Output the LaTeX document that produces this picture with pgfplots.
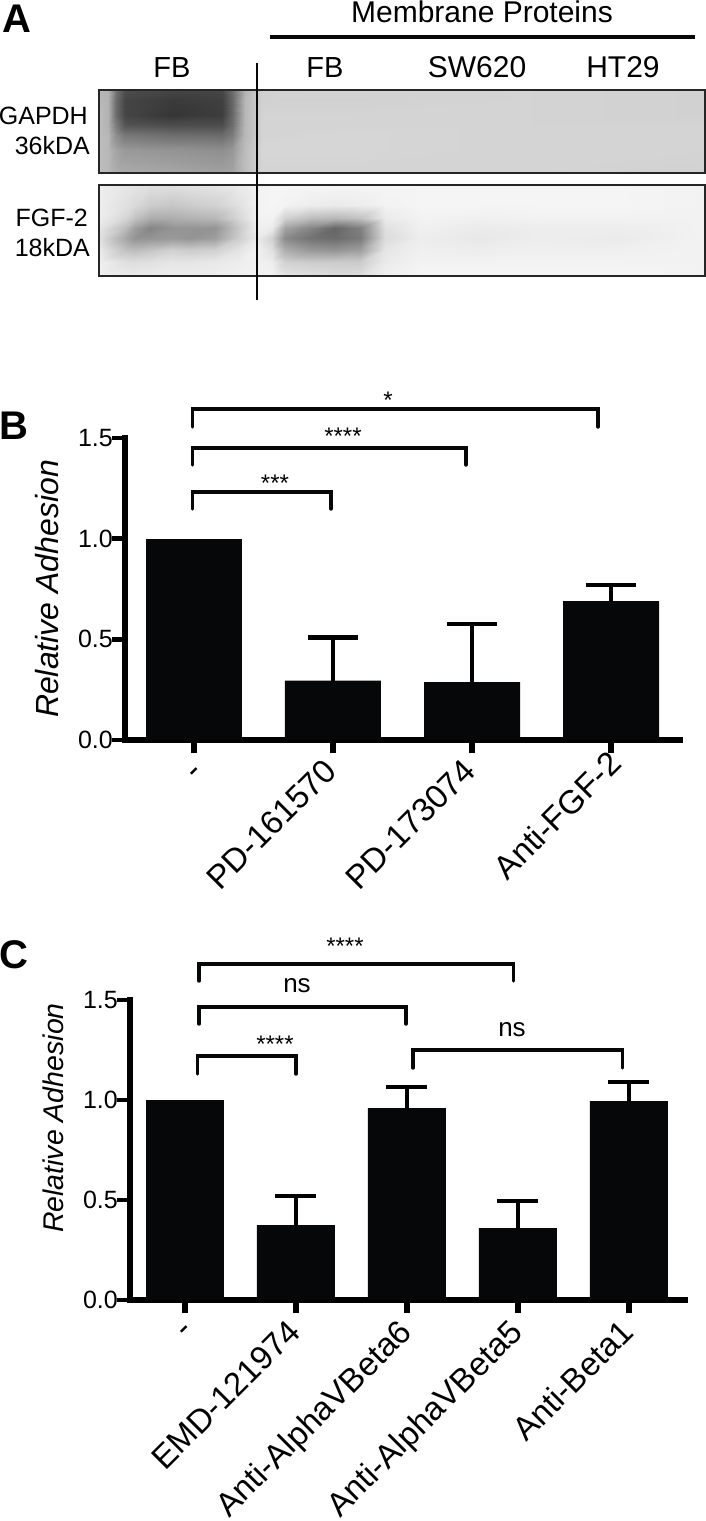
\documentclass[border=0pt]{standalone}
\usepackage{pgfplots}
\pgfplotsset{compat=1.18}
\usepackage{fontspec}
\setmainfont{Liberation Sans}

\definecolor{barblack}{HTML}{060709}

% bracket: x left, x right, y top, y bottom left, y bottom right (image pixels)
\newcommand{\sigbracket}[5]{%
  \draw[line width=3.4pt,barblack,line cap=round,line join=miter]
    (#1pt,-#4pt) -- (#1pt,-#3pt) -- (#2pt,-#3pt) -- (#2pt,-#5pt);}

\pgfplotsset{
  blot/.style={
    scale only axis, hide axis, view={0}{90}, y dir=reverse,
    colormap/blackwhite, point meta min=0, point meta max=1,
    enlargelimits=false, clip=true},
  adhesion/.style={
    scale only axis,
    ymin=0, ymax=1.5, ytick={0,0.5,1,1.5},
    axis x line*=bottom, axis y line*=left,
    axis line style={line width=6pt,black,line cap=rect},
    tick align=outside, major tick length=13pt,
    xtick style={line width=6pt,black},
    ytick style={line width=4.5pt,black},
    ticklabel style={inner sep=0pt},
    yticklabel style={font=\fontsize{25}{25}\selectfont,xshift=1pt},
    /pgf/number format/assume math mode=true,
    /pgf/number format/fixed,/pgf/number format/fixed zerofill,/pgf/number format/precision=1,
    clip=false,
    ybar, bar shift=0pt},
  errs/.style={
    fill=barblack, draw=none,
    error bars/.cd, y dir=plus, y explicit,
    error bar style={line width=4.5pt,black},
    error mark options={rotate=90,mark size=#1,line width=4.5pt,black}},
}

\begin{document}
\begin{tikzpicture}
\path[use as bounding box] (0,0) rectangle (706pt,-1521pt);

% panel A, blots
\begin{axis}[blot, at={(99pt,-173pt)}, anchor=south west, width=606pt, height=83pt,
  xmin=99, xmax=705, ymin=90, ymax=173]
\addplot3[surf, shader=interp, mesh/cols=12] coordinates {
(99,90,.72) (108,90,.70) (116,90,.45) (125,90,.30) (172,90,.27) (222,90,.28) (232,90,.42) (245,90,.70) (262,90,.82) (340,90,.83) (520,90,.83) (705,90,.82)
(99,100,.72) (108,100,.70) (116,100,.42) (125,100,.27) (172,100,.23) (222,100,.25) (232,100,.40) (245,100,.72) (262,100,.82) (340,100,.82) (520,100,.83) (705,100,.82)
(99,115,.74) (108,115,.70) (116,115,.42) (125,115,.27) (172,115,.21) (222,115,.24) (232,115,.40) (245,115,.72) (262,115,.83) (340,115,.83) (520,115,.83) (705,115,.82)
(99,125,.74) (108,125,.70) (116,125,.48) (125,125,.33) (172,125,.30) (222,125,.30) (232,125,.42) (245,125,.72) (262,125,.83) (340,125,.83) (520,125,.83) (705,125,.83)
(99,135,.74) (108,135,.72) (116,135,.55) (125,135,.47) (172,135,.43) (222,135,.42) (232,135,.48) (245,135,.72) (262,135,.83) (340,135,.84) (520,135,.83) (705,135,.83)
(99,150,.74) (108,150,.72) (116,150,.64) (125,150,.60) (172,150,.58) (222,150,.56) (232,150,.59) (245,150,.74) (262,150,.84) (340,150,.84) (520,150,.83) (705,150,.83)
(99,173,.74) (108,173,.72) (116,173,.68) (125,173,.67) (172,173,.65) (222,173,.63) (232,173,.64) (245,173,.74) (262,173,.83) (340,173,.83) (520,173,.83) (705,173,.82)
};
\end{axis}
\begin{axis}[blot, at={(99pt,-276pt)}, anchor=south west, width=606pt, height=91pt,
  xmin=99, xmax=705, ymin=185, ymax=276]
\addplot3[surf, shader=interp, mesh/cols=20] coordinates {
(99,185,.93) (125,185,.90) (135,185,.89) (150,185,.88) (172,185,.88) (190,185,.89) (215,185,.90) (238,185,.92) (257,185,.95) (272,185,.96) (285,185,.96) (310,185,.96) (335,185,.96) (360,185,.96) (385,185,.96) (420,185,.96) (480,185,.96) (540,185,.96) (620,185,.96) (705,185,.95)
(99,205,.93) (125,205,.88) (135,205,.85) (150,205,.80) (172,205,.78) (190,205,.80) (215,205,.82) (238,205,.88) (257,205,.95) (272,205,.96) (285,205,.95) (310,205,.93) (335,205,.92) (360,205,.93) (385,205,.95) (420,205,.96) (480,205,.96) (540,205,.96) (620,205,.96) (705,205,.95)
(99,218,.93) (125,218,.84) (135,218,.76) (150,218,.68) (172,218,.68) (190,218,.70) (215,218,.72) (238,218,.84) (257,218,.95) (272,218,.95) (285,218,.82) (310,218,.74) (335,218,.72) (360,218,.76) (385,218,.92) (420,218,.95) (480,218,.94) (540,218,.95) (620,218,.95) (705,218,.95)
(99,228,.90) (125,228,.74) (135,228,.62) (150,228,.52) (172,228,.58) (190,228,.58) (215,228,.58) (238,228,.78) (257,228,.94) (272,228,.92) (285,228,.64) (310,228,.52) (335,228,.40) (360,228,.50) (385,228,.88) (420,228,.94) (480,228,.92) (540,228,.93) (620,228,.93) (705,228,.95)
(99,238,.88) (125,238,.66) (135,238,.58) (150,238,.58) (172,238,.60) (190,238,.58) (215,238,.62) (238,238,.80) (257,238,.92) (272,238,.82) (285,238,.54) (310,238,.45) (335,238,.42) (360,238,.48) (385,238,.86) (420,238,.93) (480,238,.91) (540,238,.93) (620,238,.92) (705,238,.95)
(99,250,.92) (125,250,.76) (135,250,.74) (150,250,.77) (172,250,.82) (190,250,.80) (215,250,.82) (238,250,.89) (257,250,.95) (272,250,.88) (285,250,.68) (310,250,.60) (335,250,.58) (360,250,.62) (385,250,.90) (420,250,.94) (480,250,.93) (540,250,.94) (620,250,.94) (705,250,.95)
(99,262,.94) (125,262,.88) (135,262,.87) (150,262,.88) (172,262,.90) (190,262,.90) (215,262,.91) (238,262,.93) (257,262,.95) (272,262,.93) (285,262,.82) (310,262,.80) (335,262,.80) (360,262,.80) (385,262,.92) (420,262,.95) (480,262,.95) (540,262,.95) (620,262,.95) (705,262,.95)
(99,276,.94) (125,276,.92) (135,276,.92) (150,276,.92) (172,276,.93) (190,276,.93) (215,276,.93) (238,276,.94) (257,276,.95) (272,276,.95) (285,276,.90) (310,276,.88) (335,276,.86) (360,276,.87) (385,276,.94) (420,276,.96) (480,276,.96) (540,276,.96) (620,276,.96) (705,276,.95)
};
\end{axis}
\draw[line width=2.2pt,black!85] (99pt,-90pt) rectangle (705pt,-173pt);
\draw[line width=2.2pt,black!85] (99pt,-185pt) rectangle (705pt,-276pt);
\draw[line width=2.6pt,barblack] (257pt,-63pt) -- (257pt,-300pt);
\draw[line width=3.2pt,barblack] (270pt,-37pt) -- (695pt,-37pt);
\begin{scope}[every node/.style={inner sep=0pt}]
\node[font=\fontsize{40}{40}\selectfont\bfseries,anchor=base west] at (2pt,-32pt) {A};
\node[font=\fontsize{40}{40}\selectfont\bfseries,anchor=base west] at (-1pt,-439pt) {B};
\node[font=\fontsize{40}{40}\selectfont\bfseries,anchor=base west] at (-1pt,-968pt) {C};
\node[font=\fontsize{30}{30}\selectfont,anchor=base] at (482pt,-22pt) {Membrane Proteins};
\node[font=\fontsize{29}{29}\selectfont,anchor=base] at (172pt,-77pt) {FB};
\node[font=\fontsize{29}{29}\selectfont,anchor=base] at (325pt,-77pt) {FB};
\node[font=\fontsize{30}{30}\selectfont,anchor=base] at (477pt,-77pt) {SW620};
\node[font=\fontsize{30}{30}\selectfont,anchor=base] at (623pt,-77pt) {HT29};
\node[font=\fontsize{25}{25}\selectfont,anchor=base east] at (88pt,-124pt) {GAPDH};
\node[font=\fontsize{25}{25}\selectfont,anchor=base east] at (90pt,-154pt) {36kDA};
\node[font=\fontsize{25}{25}\selectfont,anchor=base east] at (88pt,-226pt) {FGF-2};
\node[font=\fontsize{25}{25}\selectfont,anchor=base east] at (90pt,-256pt) {18kDA};
\end{scope}

% panel B
\begin{axis}[adhesion, at={(125pt,-740pt)}, anchor=south west, width=555pt, height=302pt,
  xmin=-0.496, xmax=3.496, bar width=96pt,
  xtick={0,1,2,3},
  xticklabels={\raisebox{-4pt}{-}\kern-3pt,PD-161570,PD-173074,Anti-FGF-2\kern-10pt},
  xticklabel style={font=\fontsize{33}{33}\selectfont,rotate=45,anchor=base east,xshift=-10.3pt,yshift=-17.8pt},
  ylabel={Relative Adhesion},
  ylabel style={font=\fontsize{32}{32}\selectfont\itshape,at={(axis description cs:0,0.5)},anchor=center,xshift=0pt,yshift=78pt}]
\addplot[fill=barblack, draw=none] coordinates {(0,1.0)};
\addplot[errs=25pt] coordinates {
  (1,0.295) +- (0,0.215)
  (2,0.287) +- (0,0.29)
  (3,0.69) +- (0,0.08)};
\end{axis}
\sigbracket{192.5}{331}{492}{509}{509}
\sigbracket{192.5}{466}{448}{465}{465}
\sigbracket{192.5}{598}{409}{427}{427}
\node[font=\fontsize{24}{24}\selectfont,inner sep=0pt] at (275pt,-483pt) {***};
\node[font=\fontsize{24}{24}\selectfont,inner sep=0pt] at (343pt,-436pt) {****};
\node[font=\fontsize{24}{24}\selectfont,inner sep=0pt] at (388pt,-400pt) {*};

% panel C
\begin{axis}[adhesion, at={(130pt,-1300pt)}, anchor=south west, width=555pt, height=300pt,
  xmin=-0.495, xmax=4.505, bar width=78pt,
  xtick={0,1,2,3,4},
  xticklabels={\raisebox{-.6pt}{-}\kern-3.6pt,EMD-121974,Anti-AlphaVBeta6,Anti-AlphaVBeta5,Anti-Beta1},
  xticklabel style={font=\fontsize{33}{33}\selectfont,rotate=45,anchor=base east,xshift=-10pt,yshift=-19.5pt},
  ylabel={Relative Adhesion},
  ylabel style={font=\fontsize{28.5}{29}\selectfont\itshape,at={(axis description cs:0,0.5)},anchor=center,xshift=32pt,yshift=77pt}]
\addplot[fill=barblack, draw=none] coordinates {(0,1.0)};
\addplot[errs=20.5pt] coordinates {
  (1,0.375) +- (0,0.145)
  (2,0.96) +- (0,0.105)
  (3,0.36) +- (0,0.135)
  (4,0.995) +- (0,0.095)};
\end{axis}
\sigbracket{197.5}{296}{1056}{1074}{1074}
\sigbracket{199}{406}{1007}{1024}{1024}
\sigbracket{199}{513.5}{964}{981}{981}
\sigbracket{413}{622.5}{1050}{1068}{1068}
\node[font=\fontsize{24}{24}\selectfont,inner sep=0pt] at (275pt,-1044pt) {****};
\node[font=\fontsize{24}{24}\selectfont,inner sep=0pt] at (345pt,-946pt) {****};
\node[font=\fontsize{26}{26}\selectfont,inner sep=0pt] at (297pt,-986pt) {ns};
\node[font=\fontsize{26}{26}\selectfont,inner sep=0pt] at (512pt,-1030pt) {ns};
\end{tikzpicture}
\end{document}
